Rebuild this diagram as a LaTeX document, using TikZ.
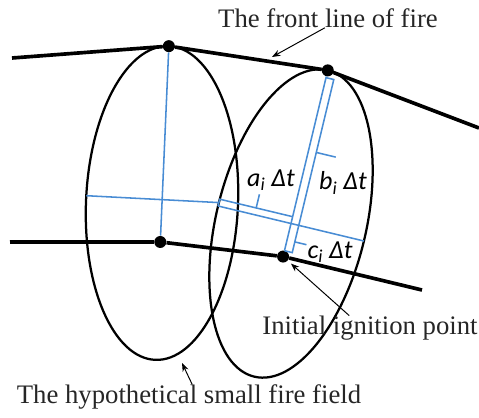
\documentclass[tikz,border=0pt]{standalone}
\usepackage{fontspec}
\setmainfont{Liberation Serif}
\newfontfamily\labelfont{Carlito}
\usetikzlibrary{arrows.meta, positioning}
\definecolor{axisblue}{RGB}{72,140,212}
\tikzset{
  front/.style={line width=2.6pt, line join=round},
  field/.style={line width=1.6pt},
  axisline/.style={draw=axisblue, line width=1.1pt},
  dot/.style={circle, fill=black, inner sep=0pt, minimum size=0.3cm},
  caption/.style={inner sep=0pt, text=black!85, font=\fontsize{19}{22}\selectfont},
  measure/.style={inner sep=0pt, font=\labelfont\itshape\fontsize{18.5}{20}\selectfont},
  pointer/.style={-{Stealth[length=6pt]}, line width=0.7pt}
}

\begin{document}
\begin{tikzpicture}[x=0.025cm, y=0.025cm]
\useasboundingbox (0,0) rectangle (479,417);

\begin{scope}[shift={(162,214)}, rotate=-2.5]
\draw[field] (0,0) ellipse [x radius=76, y radius=157];
\node[dot] (p1) at (0,157) {};
\node[dot] (q1) at (0,-39) {};
\coordinate (w1) at (-76,4);
\draw[axisline] (p1) -- (q1);
\end{scope}

\begin{scope}[shift={(291,193.5)}, rotate=-13.5]
\draw[field] (0,0) ellipse [x radius=75, y radius=157.5];
\node[dot] (p2) at (0,157.5) {};
\node[dot] (q2) at (0,-34) {};
\coordinate (a0) at (-75,0);
\coordinate (a1) at (75,0);
\coordinate (amid) at (-75,3.5);
\draw[axisline] (p2) -- (q2);
\draw[axisline] (a0) -- (a1);
\draw[axisline] (a0) -- (-75,7) -- (0,7);
\draw[axisline] (0,150) -- (8,150) -- (8,0);
\draw[axisline] (8,0) -- (8,-28) -- (0,-28);
\draw[axisline] (-37.5,7) -- (-37.5,21);
\draw[axisline] (8,75) -- (28,75);
\draw[axisline] (8,-17) -- (20,-17);
\end{scope}

\draw[axisline] (w1) -- (amid);

\coordinate (l0) at (12,359);
\coordinate (r0) at (479,289);
\coordinate (l1) at (10,175);
\coordinate (r1) at (422,127);
\draw[front] (l0) -- (p1) -- (p2) -- (r0);
\draw[front] (l1) -- (q1) -- (q2) -- (r1);

\node[measure] (alabel) at (271,237) {a\textsubscript{i} Δt};
\node[measure] (blabel) at (343,234) {b\textsubscript{i} Δt};
\node[measure] (clabel) at (330,165) {c\textsubscript{i} Δt};

\node[caption] (ftxt) at (328,399) {The front line of fire};
\node[caption] (itxt) at (370,89) {Initial ignition point};
\node[caption] (htxt) at (189,20) {The hypothetical small fire field};

\coordinate (fhead) at (272,360);
\coordinate (hhead) at (182,54);
\draw[pointer] ([xshift=-0.08cm]ftxt.south) -- (fhead);
\draw[pointer, shorten >=3pt] ([xshift=-0.52cm]itxt.north) -- (q2);
\draw[pointer] ([xshift=0.08cm]htxt.north) -- (hhead);
\end{tikzpicture}
\end{document}
